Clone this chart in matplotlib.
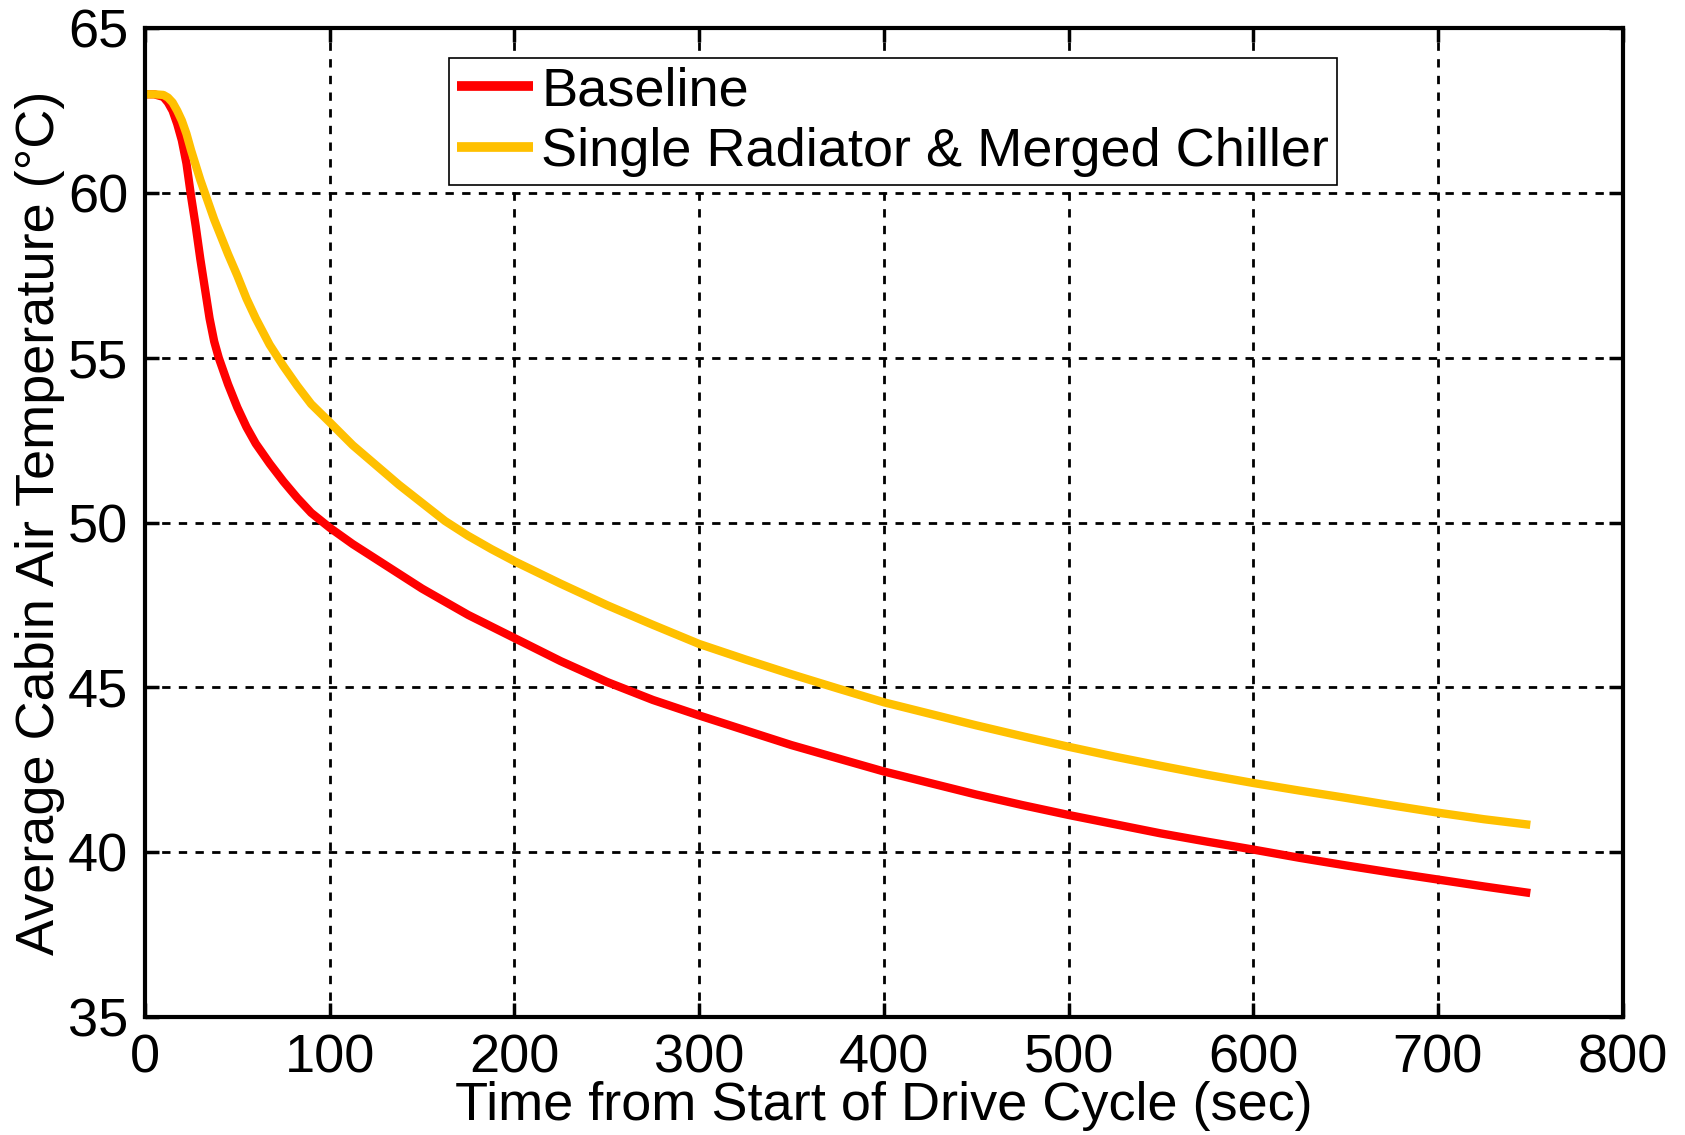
import matplotlib
matplotlib.use("Agg")
import matplotlib.pyplot as plt

plt.rcParams['font.family'] = ['Liberation Sans', 'DejaVu Sans']

time_s = [0, 5, 10, 12.5, 15, 17.5, 20, 22.5, 25, 27.5, 30, 32.5, 35, 37.5, 40, 45, 50,
          55, 60, 67.5, 75, 82.5, 90, 100, 112.5, 125, 137.5, 150, 162.5, 175, 187.5,
          200, 225, 250, 275, 300, 325, 350, 375, 400, 425, 450, 475, 500, 525, 550,
          575, 600, 625, 650, 675, 700, 725, 750]
baseline = [63.0, 63.0, 62.92, 62.75, 62.5, 62.1, 61.6, 60.9, 59.9, 59.0, 58.0, 57.1,
            56.2, 55.5, 55.0, 54.2, 53.5, 52.9, 52.4, 51.8, 51.25, 50.75, 50.3, 49.85,
            49.35, 48.9, 48.45, 48.0, 47.6, 47.2, 46.85, 46.5, 45.8, 45.17, 44.62,
            44.15, 43.7, 43.25, 42.85, 42.45, 42.1, 41.75, 41.43, 41.13, 40.85, 40.57,
            40.32, 40.08, 39.83, 39.6, 39.38, 39.17, 38.96, 38.76]
merged = [63.0, 63.0, 62.98, 62.9, 62.75, 62.5, 62.2, 61.8, 61.3, 60.85, 60.4, 60.0,
          59.6, 59.2, 58.85, 58.15, 57.5, 56.8, 56.2, 55.4, 54.75, 54.15, 53.6, 53.05,
          52.35, 51.75, 51.15, 50.6, 50.05, 49.6, 49.2, 48.83, 48.15, 47.5, 46.9,
          46.32, 45.85, 45.4, 44.97, 44.55, 44.2, 43.85, 43.52, 43.2, 42.9, 42.62,
          42.35, 42.1, 41.87, 41.65, 41.42, 41.2, 41.0, 40.83]

series_labels = ["Baseline", "Single Radiator & Merged Chiller"]
xticks = [0, 100, 200, 300, 400, 500, 600, 700, 800]
yticks = [35, 40, 45, 50, 55, 60, 65]

fig = plt.figure(figsize=(16.85, 11.35), dpi=100)
ax = fig.add_axes([0.086, 0.104, 0.877, 0.871])

ax.plot(time_s, baseline, color='#FF0000', lw=6, label=series_labels[0],
        solid_capstyle='butt', solid_joinstyle='round')
ax.plot(time_s, merged, color='#FFC000', lw=6, label=series_labels[1],
        solid_capstyle='butt', solid_joinstyle='round')

ax.set_xlim(0, 800)
ax.set_ylim(35, 65)
ax.set_xticks(xticks)
ax.set_yticks(yticks)
ax.grid(True, color='black', linestyle=(0, (3, 3)), linewidth=2)
ax.tick_params(direction='in', length=10, width=2.5, labelsize=39,
               top=True, right=True, pad=12)
for sp in ax.spines.values():
    sp.set_linewidth(3)

ax.set_xlabel("Time from Start of Drive Cycle (sec)", fontsize=39, labelpad=-2)
ax.set_ylabel("Average Cabin Air Temperature (\u00b0C)", fontsize=39, labelpad=2)

leg = ax.legend(loc='upper left', bbox_to_anchor=(0.206, 0.97), fontsize=39,
                frameon=True, fancybox=False, shadow=False, framealpha=1,
                edgecolor='black', handlelength=1.4, handletextpad=0.15,
                labelspacing=0.2, borderpad=0.15, borderaxespad=0)
leg.get_frame().set_linewidth(1.2)
for h in leg.get_lines():
    h.set_linewidth(7)

fig.savefig("out.png", dpi=100)
